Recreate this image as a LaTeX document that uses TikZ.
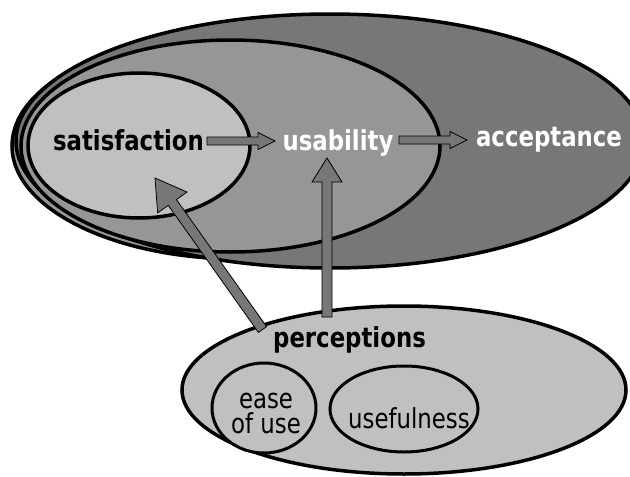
\documentclass[tikz,border=0pt]{standalone}
\usepackage{fontspec}
\setmainfont{DejaVu Sans}[FakeStretch=0.83]
\usetikzlibrary{shapes.geometric,calc}
\definecolor{accgray}{RGB}{119,119,119}
\definecolor{usagray}{RGB}{150,150,150}
\definecolor{satgray}{RGB}{192,192,192}
\tikzset{
  region/.style={ellipse, draw=black, line width=3.5pt, inner sep=0pt},
  lbl/.style={font=\fontsize{27.5}{25}\selectfont, inner sep=0pt, anchor=base},
  boldlbl/.style={inner sep=0pt, anchor=base, font=\fontsize{27.5}{25}\selectfont\bfseries},
  blockarr/.style={fill=accgray, draw=black, line width=0.8pt, line join=miter},
}
\newcommand{\blockarrow}[5]{%
  \coordinate (ba-h) at ($(#2)!#5!(#1)$);
  \draw[blockarr] ($(#1)!#3!90:(#2)$) -- ($(ba-h)!#3!90:(#2)$) -- ($(ba-h)!#4!90:(#2)$)
    -- (#2) -- ($(ba-h)!#4!-90:(#2)$) -- ($(ba-h)!#3!-90:(#2)$) -- ($(#1)!#3!-90:(#2)$) -- cycle;
}
\begin{document}
\begin{tikzpicture}[x=1pt,y=-1pt]
\useasboundingbox (0,0) rectangle (630,477);
\clip (0,0) rectangle (630,477);
% nested regions
\node[region, fill=usagray, minimum width=456pt, minimum height=226pt] (rim) at (240,146) {};
\node[region, fill=accgray, minimum width=628pt, minimum height=254pt] (acc) at (330,141) {};
\node[region, fill=usagray, minimum width=419pt, minimum height=212pt] (usa) at (230.5,146) {};
\node[region, fill=satgray, minimum width=222pt, minimum height=145pt] (sat) at (139,145.5) {};
% perceptions
\node[region, fill=satgray, minimum width=444pt, minimum height=168pt] (perc) at (404,390) {};
\node[region, line width=3pt, fill=satgray, minimum width=104pt, minimum height=90pt] (ease) at (264,408) {};
\node[region, line width=3pt, fill=satgray, minimum width=148pt, minimum height=86pt] (useful) at (404,409) {};
% labels
\node[boldlbl] (tsat) at (128.5,150) {satisfaction};
\node[boldlbl, text=white] (tusa) at (338,150) {usability};
\node[boldlbl, text=white] (tacc) at (549,146) {acceptance};
\node[boldlbl] (tperc) at (349.5,347) {perceptions};
\node[lbl, align=center] (tease) at (266,433) {ease\\of use};
\node[lbl] (tuse) at (409,428) {usefulness};
% arrows
\coordinate (a1s) at (207,141); \coordinate (a1t) at (275,141);
\coordinate (a2s) at (399,140); \coordinate (a2t) at (467,140);
\coordinate (a3s) at (327,317); \coordinate (a3t) at (327,158);
\coordinate (a4s) at (262.5,329.5); \coordinate (a4t) at (155,178);
\blockarrow{a1s}{a1t}{4pt}{8.5pt}{17pt}
\blockarrow{a2s}{a2t}{4pt}{8.5pt}{17pt}
\blockarrow{a3s}{a3t}{5pt}{15pt}{24pt}
\blockarrow{a4s}{a4t}{5pt}{18pt}{30pt}
\end{tikzpicture}
\end{document}
